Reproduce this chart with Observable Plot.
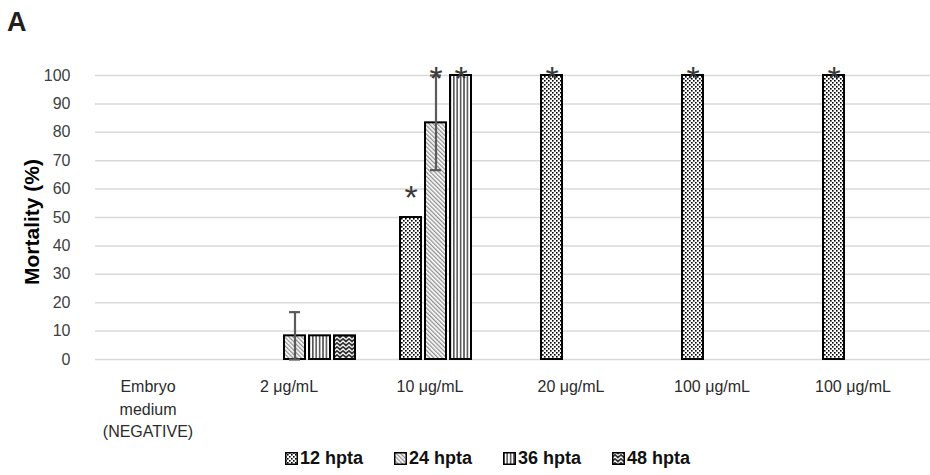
<!DOCTYPE html>
<html><head><meta charset="utf-8">
<script src="https://cdn.jsdelivr.net/npm/d3@7"></script>
<script src="https://cdn.jsdelivr.net/npm/@observablehq/plot@0.6"></script>
<style>
body{margin:0;background:#fff;font-family:Arial,"Liberation Sans",sans-serif;}
#wrap{position:relative;width:930px;height:475px;overflow:hidden;}
#title{position:absolute;left:7px;top:7px;font-size:27px;font-weight:bold;color:#231f20;}
#ylab{position:absolute;left:32px;top:222px;transform:translate(-50%,-50%) rotate(-90deg);font-size:21px;font-weight:bold;white-space:nowrap;color:#000;}
#legend{position:absolute;top:448px;left:285px;display:flex;gap:31px;font-size:18px;font-weight:bold;color:#111;}
#legend .it{display:flex;align-items:center;gap:2px;}
#legend svg{display:block}
#plot{position:absolute;left:0;top:0;}
</style></head>
<body>
<svg width="0" height="0" style="position:absolute">
<defs>
<pattern id="p12" width="4" height="4" patternUnits="userSpaceOnUse">
<rect width="4" height="4" fill="#fff"/><rect x="0" y="0" width="1.6" height="1.6" fill="#000"/><rect x="2" y="2" width="1.6" height="1.6" fill="#000"/>
</pattern>
<pattern id="p24" width="3" height="3" patternUnits="userSpaceOnUse" patternTransform="rotate(-45)">
<rect width="3" height="3" fill="#fff"/><rect x="0" y="0" width="1.3" height="3" fill="#8f8f8f"/>
</pattern>
<pattern id="p36" width="3.4" height="4" patternUnits="userSpaceOnUse">
<rect width="3.4" height="4" fill="#fff"/><rect x="0" y="0" width="1.6" height="4" fill="#555"/>
</pattern>
<pattern id="p48" width="6" height="4" patternUnits="userSpaceOnUse">
<rect width="6" height="4" fill="#333"/><polyline points="0,3.5 3,0.8 6,3.5" fill="none" stroke="#fff" stroke-width="1.3"/>
</pattern>
</defs></svg>
<div id="wrap">
<div id="plot"></div>
<div id="title">A</div>
<div id="ylab">Mortality (%)</div>
<div id="legend"></div>
</div>
<script>
// ---- data ----
const categories = ["neg", "c2", "c10", "c20", "c100a", "c100b"];
const categoryLabels = ["Embryo\nmedium\n(NEGATIVE)", "2 μg/mL", "10 μg/mL", "20 μg/mL", "100 μg/mL", "100 μg/mL"];
const series = ["12 hpta", "24 hpta", "36 hpta", "48 hpta"];
const h12 = [0, 0, 50, 100, 100, 100];
const h24 = [0, 8.33, 83.33, 0, 0, 0];
const h36 = [0, 8.33, 100, 0, 0, 0];
const h48 = [0, 8.33, 0, 0, 0, 0];
const errCategory = ["c2", "c10"];
const errSeries = ["24 hpta", "24 hpta"];
const errLow = [0, 66.67];
const errHigh = [16.67, 100];
const starCategory = ["c10", "c10", "c10", "c20", "c100a", "c100b"];
const starSeries = ["12 hpta", "24 hpta", "36 hpta", "12 hpta", "12 hpta", "12 hpta"];
const starAt = [60, 102, 102, 102, 102, 102];
const yTicks = [0, 10, 20, 30, 40, 50, 60, 70, 80, 90, 100];
const patterns = ["url(#p12)", "url(#p24)", "url(#p36)", "url(#p48)"];

// ---- tables ----
const valuesBySeries = [h12, h24, h36, h48];
const bars = [];
series.forEach((s, i) => categories.forEach((c, j) => bars.push({cat: c, series: s, value: valuesBySeries[i][j]})));
const errs = errCategory.map((c, i) => ({cat: c, series: errSeries[i], lo: errLow[i], hi: errHigh[i]}));
const stars = starCategory.map((c, i) => ({cat: c, series: starSeries[i], at: starAt[i]}));
const labelOf = new Map(categories.map((c, i) => [c, categoryLabels[i]]));

const chart = Plot.plot({
  width: 930,
  height: 440,
  marginLeft: 94,
  marginRight: 0,
  marginTop: 75,
  marginBottom: 81,
  style: {fontFamily: "Arial, 'Liberation Sans', sans-serif", fontSize: "16px", color: "#404040", background: "transparent", overflow: "visible"},
  fx: {domain: categories, padding: 0, range: [94, 941], axis: null},
  x: {domain: series, paddingInner: 0.17, paddingOuter: 0.8, axis: null},
  y: {domain: [0, 100], ticks: yTicks, tickSize: 0, tickPadding: 25, label: null},
  color: {domain: series, range: patterns},
  marks: [
    Plot.ruleY(yTicks, {stroke: "#d9d9d9", strokeWidth: 1.5}),
    Plot.barY(bars.filter(d => d.value > 0), {fx: "cat", x: "series", y: "value", fill: "series", stroke: "#000", strokeWidth: 2}),
    Plot.ruleX(errs, {fx: "cat", x: "series", y1: "lo", y2: "hi", stroke: "#5a5a5a", strokeWidth: 2.2}),
    Plot.tickY(errs, {fx: "cat", x: "series", y: "lo", stroke: "#5a5a5a", strokeWidth: 2.2, insetLeft: 5, insetRight: 5}),
    Plot.tickY(errs, {fx: "cat", x: "series", y: "hi", stroke: "#5a5a5a", strokeWidth: 2.2, insetLeft: 5, insetRight: 5}),
    Plot.text(stars, {fx: "cat", x: "series", y: "at", text: () => "*", fontSize: 34, fill: "#3a3a3a", dy: 9}),
    Plot.text(categories, {fx: d => d, text: d => labelOf.get(d), frameAnchor: "bottom", lineAnchor: "top", dy: 17, dx: -18, lineHeight: 1.4, fill: "#2b2b2b"})
  ]
});
document.getElementById("plot").appendChild(chart);

// legend
const lg = document.getElementById("legend");
series.forEach((s, i) => {
  const it = document.createElement("div");
  it.className = "it";
  it.innerHTML = `<svg width="13" height="13"><rect x="0.75" y="0.75" width="11.5" height="11.5" fill="${patterns[i]}" stroke="#000" stroke-width="1.5"/></svg><span>${s}</span>`;
  lg.appendChild(it);
});
</script>
</body></html>
